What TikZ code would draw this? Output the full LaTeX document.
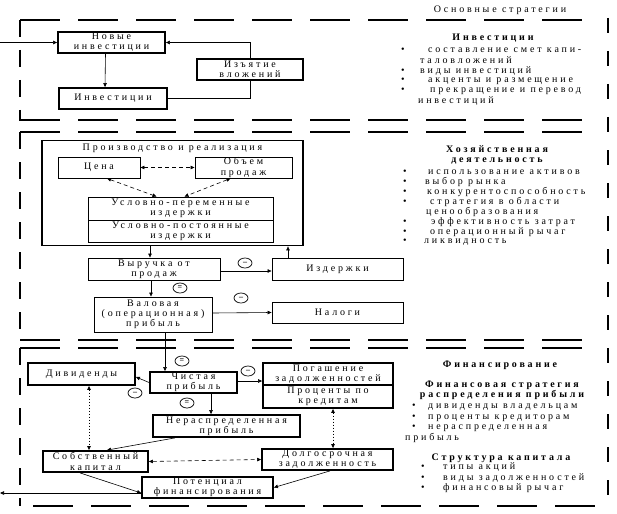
\documentclass[tikz,border=0pt]{standalone}
\usepackage{fontspec}
\setmainfont{Liberation Serif}[LetterSpace=28]
\usetikzlibrary{arrows.meta,shapes.geometric,calc}
\newcommand{\myft}{\fontsize{10}{10.2}\selectfont}
\tikzset{
 bx/.style={draw, line width=1.8pt, inner sep=0pt, align=center, font=\myft},
 tbx/.style={draw, line width=0.9pt, inner sep=0pt, align=center, font=\myft},
 conn/.style={line width=0.6pt, -{Triangle[length=4pt,width=3.5pt]}},
 dconn/.style={line width=0.6pt, dash pattern=on 4pt off 3pt, {Triangle[length=4pt,width=3.5pt]}-{Triangle[length=4pt,width=3.5pt]}},
 oconn/.style={line width=0.8pt, dash pattern=on 1.5pt off 1.5pt, {Triangle[length=4pt,width=3.5pt]}-{Triangle[length=4pt,width=3.5pt]}},
 sgn/.style={ellipse, draw, line width=0.7pt, minimum width=14pt, minimum height=10pt, inner sep=0pt, font=\fontsize{8}{8}\selectfont\bfseries},
 txt/.style={anchor=west, inner sep=0pt, font=\myft},
 hd/.style={inner sep=0pt, align=center, font=\myft\bfseries},
 secH/.style={line width=2.2pt, dash pattern=on 40pt off 18pt},
 secV/.style={line width=2.2pt, dash pattern=on 17pt off 13pt},
 secR/.style={line width=2.6pt, dash pattern=on 15pt off 18pt},
}
\newcommand{\bl}[2]{\makebox[#1][l]{\textbullet}#2}
\begin{document}
\begin{tikzpicture}[x=1pt,y=-1pt]
\useasboundingbox (0,0) rectangle (617,513);
% sections
\draw[secH] (20,20) -- (597,20);
\draw[secV] (20,20) -- (20,121);
\draw[secH] (20,120) -- (597,120);
\draw[secH] (20,132) -- (597,132);
\draw[secV] (20,132) -- (20,341);
\draw[secH] (20,340) -- (597,340);
\draw[secH] (20,348) -- (597,348);
\draw[secV] (20,348) -- (20,506);
\draw[secH] (33,506) -- (597,506);
\draw[secR] (608,18) -- (608,512);
\node[inner sep=0pt, font=\myft] (title) at (500,10) {Основные стратегии};

% section 1
\node[bx, minimum width=107pt, minimum height=21pt] (nov) at (111.5,42.5) {Новые\\инвестиции};
\node[bx, minimum width=106pt, minimum height=21pt] (izy) at (250,69.5) {Изъятие\\вложений};
\node[bx, minimum width=108pt, minimum height=21pt] (inv) at (113,98.5) {Инвестиции};
\coordinate (inL) at (0,42.5);
\draw[conn] (inL) -- (nov.west);
\draw[conn] ([xshift=-6pt]nov.south) -- ([xshift=-8pt]inv.north);
\draw[line width=0.6pt] (inv.east) -| (izy.south);
\draw[conn] (izy.north) |- (nov.east);

\node[hd] (h1) at (493,38) {Инвестиции};
\node[txt] (t11) at (401,50) {\bl{27pt}{составление смет капи-}};
\node[txt] (t12) at (420,60) {таловложений};
\node[txt] (t13) at (401,71) {\bl{19pt}{виды инвестиций}};
\node[txt] (t14) at (401,81) {\bl{27pt}{акценты и размещение}};
\node[txt] (t15) at (401,91) {\bl{29pt}{прекращение и перевод}};
\node[txt] (t16) at (418,101) {инвестиций};

% section 2
\node[bx, minimum width=261pt, minimum height=105pt] (prod) at (172.5,193) {};
\node[inner sep=0pt, font=\myft] (prodt) at (172.5,148) {Производство и реализация};
\node[tbx, minimum width=82pt, minimum height=21pt] (cena) at (99,167.5) {Цена};
\node[tbx, minimum width=97pt, minimum height=21pt] (obem) at (243.5,167.5) {Объем\\продаж};
\node[tbx, minimum width=185pt, minimum height=23pt] (usp) at (180.5,208.5) {Условно-переменные\\издержки};
\node[tbx, minimum width=185pt, minimum height=22pt] (usc) at (180.5,231) {Условно-постоянные\\издержки};
\draw[dconn] (cena.east) -- (obem.west);
\draw[dconn] ([xshift=8pt]cena.south) -- ([xshift=-24pt]usp.north);
\draw[dconn] ([xshift=-13pt]obem.south) -- ([xshift=4pt]usp.north);

\node[tbx, minimum width=132pt, minimum height=22pt] (vyr) at (154,269) {Выручка от\\продаж};
\node[tbx, minimum width=131pt, minimum height=22pt] (izd) at (337.5,269) {Издержки};
\node[tbx, minimum width=118pt, minimum height=35pt] (val) at (153,314.5) {Валовая\\(операционная)\\прибыль};
\node[tbx, minimum width=131pt, minimum height=21pt] (nal) at (337.5,312.5) {Налоги};
\draw[conn] ([xshift=-22.5pt]prod.south) -- ([xshift=-4pt]vyr.north);
\draw[conn] ([yshift=-2pt]vyr.east) -- ([yshift=-2pt]izd.west);
\draw[conn] ([xshift=-49.5pt]izd.north) -- ([xshift=115.5pt]prod.south);
\draw[conn] ([xshift=-3pt]vyr.south) -- ([xshift=-2pt]val.north);
\draw[conn] ([yshift=1.5pt]val.east) -- (nal.west);
\node[sgn] (s1) at (245,263) {--};
\node[sgn] (s2) at (180,288) {=};
\node[sgn] (s3) at (241,298) {--};

\node[hd] (h2) at (497,155) {Хозяйственная\\деятельность};
\node[txt] (t21) at (403,172) {\bl{25pt}{использование  активов}};
\node[txt] (t22) at (403,182) {\bl{22pt}{выбор рынка}};
\node[txt] (t23) at (403,192) {\bl{24pt}{конкурентоспособность}};
\node[txt] (t24) at (403,202) {\bl{27pt}{стратегия в  области}};
\node[txt] (t25) at (426,212) {ценообразования};
\node[txt] (t26) at (403,222) {\bl{28pt}{эффективность затрат}};
\node[txt] (t27) at (403,232) {\bl{27pt}{операционный рычаг}};
\node[txt] (t28) at (403,242) {\bl{21pt}{ликвидность}};

% section 3
\node[bx, minimum width=107pt, minimum height=22pt] (div) at (81.5,374) {Дивиденды};
\node[bx, minimum width=87pt, minimum height=21pt] (chp) at (193.5,382.5) {Чистая\\прибыль};
\node[bx, minimum width=130pt, minimum height=22pt] (pog) at (328,374) {Погашение\\задолженностей};
\node[bx, minimum width=130pt, minimum height=23pt] (proc) at (328,396.5) {Проценты по\\кредитам};
\node[bx, minimum width=147pt, minimum height=22pt] (ner) at (226.5,426) {Нераспределенная\\прибыль};
\node[bx, minimum width=105pt, minimum height=21pt] (sob) at (95.5,461.5) {Собственный\\капитал};
\node[bx, minimum width=131pt, minimum height=21pt] (dol) at (327.5,459.5) {Долгосрочная\\задолженность};
\node[bx, minimum width=131pt, minimum height=21pt] (pot) at (207.5,487.5) {Потенциал\\финансирования};
\coordinate (outL) at (0,493);

\draw[conn] ([xshift=12pt]val.south) -- ([xshift=-28.5pt]chp.north);
\draw[conn] (chp.west) -- ([yshift=-3pt]div.east);
\draw[conn] ([yshift=1.5pt]chp.east) -- ([yshift=-7pt]pog.west);
\draw[conn] ([xshift=17.5pt]chp.south) -- ([xshift=-15.5pt]ner.north);
\draw[conn] ([xshift=-51.5pt]ner.south) -- ([xshift=11.5pt]sob.north);
\draw[oconn] ([xshift=7.5pt]div.south) -- ([xshift=-6.5pt]sob.north);
\draw[dconn] (sob.east) -- (dol.west);
\draw[oconn] ([xshift=5pt]proc.south) -- ([xshift=5.5pt]dol.north);
\draw[conn] ([xshift=-15.5pt]sob.south) -- ([yshift=-5.5pt]pot.west);
\draw[conn] ([xshift=2.5pt]dol.south) -- (pot.east);
\draw[conn] ([yshift=-5.5pt]pot.west) -- (outL);
\node[sgn] (s4) at (182,361) {=};
\node[sgn] (s5) at (135,393) {--};
\node[sgn] (s6) at (248,371) {--};
\node[sgn] (s7) at (187,403) {=};

\node[hd] (h3a) at (500,365) {Финансирование};
\node[hd] (h3b) at (502,390.5) {Финансовая стратегия\\распределения прибыли};
\node[txt] (t31) at (412,407.5) {\bl{16pt}{дивиденды владельцам}};
\node[txt] (t32) at (412,418) {\bl{16pt}{проценты кредиторам}};
\node[txt] (t33) at (412,428) {\bl{16pt}{нераспределенная}};
\node[txt] (t34) at (405,438) {прибыль};
\node[hd] (h3d) at (501,458) {Структура капитала};
\node[txt] (t35) at (421,467.5) {\bl{22pt}{типы акций}};
\node[txt] (t36) at (421,478) {\bl{22pt}{виды задолженностей}};
\node[txt] (t37) at (421,488.5) {\bl{22pt}{финансовый рычаг}};
\end{tikzpicture}
\end{document}
